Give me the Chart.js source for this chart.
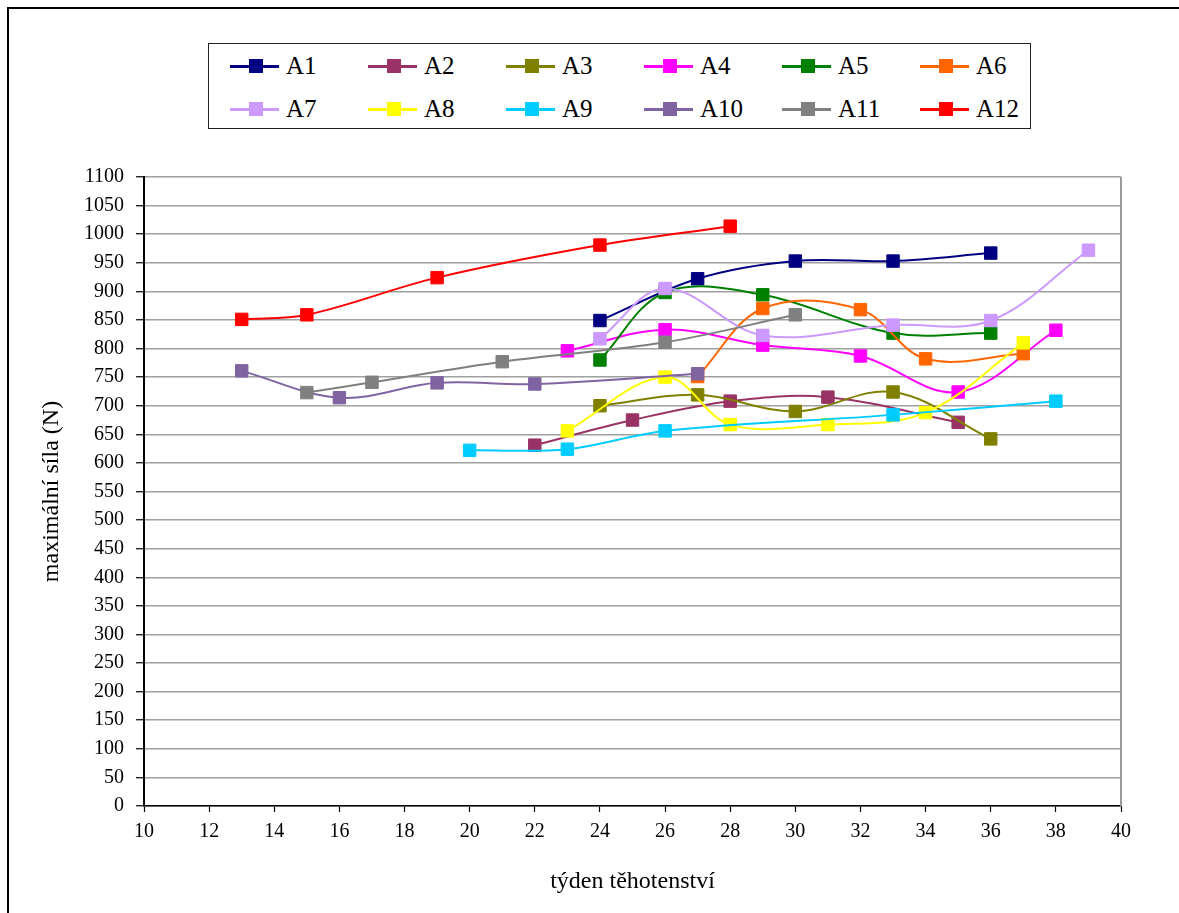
<!DOCTYPE html>
<html lang="cs">
<head>
<meta charset="utf-8">
<title>Maximální síla v průběhu těhotenství</title>
<script src="https://cdn.jsdelivr.net/npm/chart.js@4.4.1/dist/chart.umd.min.js"></script>
<style>
  html, body { margin: 0; padding: 0; background: #fff; overflow: hidden; }
  #page { position: relative; width: 1179px; height: 913px; overflow: hidden; background: #fff; }
  #frame { position: absolute; left: 7px; top: 7px; width: 1400px; height: 1200px; border: 2.5px solid #000; box-sizing: border-box; }
  #chart { position: absolute; left: 0; top: 0; }
  #legend { position: absolute; left: 208px; top: 43px; width: 823px; height: 86px; border: 1px solid #222; box-sizing: border-box; background: #fff; }
  .item { position: absolute; height: 30px; font-family: "Liberation Serif", "Times New Roman", serif; font-size: 25px; color: #000; line-height: 30px; white-space: nowrap; }
  .item .ln { position: absolute; left: 0; top: 14px; width: 49px; height: 2.5px; }
  .item .mk { position: absolute; left: 19px; top: 8px; width: 14px; height: 14px; }
  .item .tx { position: absolute; left: 56px; top: 0; }
</style>
</head>
<body>
<div id="page">
  <div id="frame"></div>
  <canvas id="chart" width="1179" height="913"></canvas>
  <div id="legend"></div>
</div>
<script>
// Series names and colours
const seriesNames = ['A1', 'A2', 'A3', 'A4', 'A5', 'A6', 'A7', 'A8', 'A9', 'A10', 'A11', 'A12'];
const seriesColors = ['#000080', '#993366', '#808000', '#FF00FF', '#008000', '#FF6600',
                      '#CC99FF', '#FFFF00', '#00CCFF', '#8064A2', '#808080', '#FF0000'];

// Week of pregnancy for each measurement
const weeksA1  = [24, 27, 30, 33, 36];
const weeksA2  = [22, 25, 28, 31, 35];
const weeksA3  = [24, 27, 30, 33, 36];
const weeksA4  = [23, 26, 29, 32, 35, 38];
const weeksA5  = [24, 26, 29, 33, 36];
const weeksA6  = [27, 29, 32, 34, 37];
const weeksA7  = [24, 26, 29, 33, 36, 39];
const weeksA8  = [23, 26, 28, 31, 34, 37];
const weeksA9  = [20, 23, 26, 33, 38];
const weeksA10 = [13, 16, 19, 22, 27];
const weeksA11 = [15, 17, 21, 26, 30];
const weeksA12 = [13, 15, 19, 24, 28];

// Maximum force (N)
const forceA1  = [849, 922, 953, 953, 967];
const forceA2  = [631, 675, 708, 715, 671];
const forceA3  = [700, 719, 690, 724, 642];
const forceA4  = [796, 833, 806, 787, 724, 832];
const forceA5  = [780, 898, 894, 827, 827];
const forceA6  = [751, 870, 868, 782, 791];
const forceA7  = [817, 905, 823, 841, 849, 972];
const forceA8  = [656, 750, 667, 667, 688, 810];
const forceA9  = [622, 624, 656, 684, 708];
const forceA10 = [761, 714, 740, 738, 756];
const forceA11 = [723, 741, 777, 811, 859];
const forceA12 = [851, 859, 924, 981, 1014];

// Axis ranges and tick steps
const xMin = 10, xMax = 40, xStep = 2;
const yMin = 0, yMax = 1100, yStep = 50;

const allWeeks = [weeksA1, weeksA2, weeksA3, weeksA4, weeksA5, weeksA6,
                  weeksA7, weeksA8, weeksA9, weeksA10, weeksA11, weeksA12];
const allForces = [forceA1, forceA2, forceA3, forceA4, forceA5, forceA6,
                   forceA7, forceA8, forceA9, forceA10, forceA11, forceA12];

const datasets = seriesNames.map((name, i) => ({
  label: name,
  data: allWeeks[i].map((w, k) => ({ x: w, y: allForces[i][k] })),
  borderColor: seriesColors[i],
  backgroundColor: seriesColors[i],
  pointBackgroundColor: seriesColors[i],
  pointBorderColor: seriesColors[i],
  borderWidth: 2,
  pointStyle: 'rect',
  pointRadius: 8.8,
  pointBorderWidth: 1,
  tension: 0.36,
  // later series are drawn over earlier ones
  order: seriesNames.length - i
}));

// Grey outline on the right edge of the plot area
const plotFrame = {
  id: 'plotFrame',
  beforeDatasetsDraw(chart) {
    const { ctx, chartArea: a } = chart;
    ctx.save();
    ctx.strokeStyle = '#9a9a9a';
    ctx.lineWidth = 2;
    ctx.beginPath();
    ctx.moveTo(a.right, a.top);
    ctx.lineTo(a.right, a.bottom);
    ctx.stroke();
    ctx.restore();
  }
};

const serif = '"Liberation Serif", "Times New Roman", serif';
const plainNumber = (v) => String(v);

new Chart(document.getElementById('chart'), {
  type: 'line',
  data: { datasets },
  plugins: [plotFrame],
  options: {
    responsive: false,
    animation: false,
    devicePixelRatio: 1,
    layout: { padding: { left: 0, top: 177, right: 58, bottom: 0 } },
    plugins: {
      legend: { display: false },
      tooltip: { enabled: false }
    },
    scales: {
      x: {
        type: 'linear',
        min: xMin,
        max: xMax,
        ticks: {
          stepSize: xStep,
          color: '#000',
          padding: 8,
          maxRotation: 0,
          callback: plainNumber,
          font: { family: serif, size: 20 }
        },
        grid: {
          drawOnChartArea: false,
          drawTicks: true,
          tickLength: 6,
          tickColor: '#000',
          tickWidth: 1.2
        },
        border: { color: '#000', width: 1.6 },
        title: {
          display: true,
          text: 'týden těhotenství',
          color: '#000',
          font: { family: serif, size: 24 },
          padding: { top: 0, bottom: 17 }
        },
        afterFit(scale) { scale.height = 107; }
      },
      y: {
        type: 'linear',
        min: yMin,
        max: yMax,
        ticks: {
          stepSize: yStep,
          color: '#000',
          padding: 12,
          callback: plainNumber,
          font: { family: serif, size: 20 }
        },
        grid: {
          color: '#a0a0a0',
          lineWidth: 1.5,
          drawTicks: true,
          tickLength: 8,
          tickColor: '#000',
          tickWidth: 1.2
        },
        border: { color: '#000', width: 2 },
        title: {
          display: true,
          text: 'maximální síla (N)',
          color: '#000',
          font: { family: serif, size: 24 },
          padding: { top: 37, bottom: 0 }
        },
        afterFit(scale) { scale.width = 144; }
      }
    }
  }
});

// Legend: two rows of six entries, line with a square marker
const legend = document.getElementById('legend');
const perRow = 6, colWidth = 138, firstX = 21, rowY = [7, 50];
seriesNames.forEach((name, i) => {
  const item = document.createElement('div');
  item.className = 'item';
  item.style.left = (firstX + (i % perRow) * colWidth) + 'px';
  item.style.top = rowY[Math.floor(i / perRow)] + 'px';
  const ln = document.createElement('span');
  ln.className = 'ln';
  ln.style.background = seriesColors[i];
  const mk = document.createElement('span');
  mk.className = 'mk';
  mk.style.background = seriesColors[i];
  const tx = document.createElement('span');
  tx.className = 'tx';
  tx.textContent = name;
  item.append(ln, mk, tx);
  legend.appendChild(item);
});
</script>
</body>
</html>
